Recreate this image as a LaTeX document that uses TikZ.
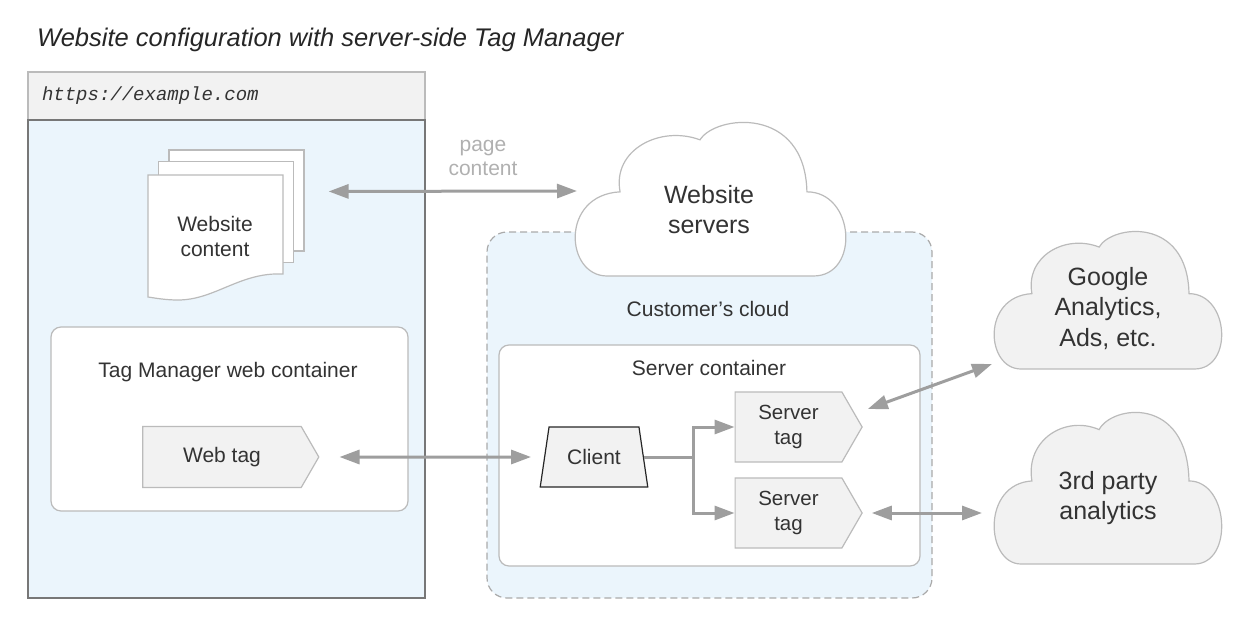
\documentclass[tikz,border=0pt]{standalone}
\usepackage{fontspec}
\setmainfont{Liberation Sans}
\setmonofont{Liberation Mono}
\usetikzlibrary{arrows.meta,shapes.geometric,shapes.symbols}
\definecolor{bluefill}{HTML}{EBF5FC}
\definecolor{greyfill}{HTML}{F2F2F2}
\definecolor{greyline}{HTML}{BBBBBB}
\definecolor{dashgrey}{HTML}{AAAAAA}
\definecolor{darkline}{HTML}{777777}
\definecolor{arrowgrey}{HTML}{9E9E9E}
\definecolor{labelgrey}{HTML}{B0B0B0}
\definecolor{inktext}{HTML}{333333}

\begin{document}
\begin{tikzpicture}
[
x=1pt,y=-1pt,
every node/.style={text=inktext,font=\fontsize{21}{25}\selectfont},
box/.style={draw=greyline,line width=1.2pt},
sheet/.style={box,fill=white,minimum width=135pt,minimum height=101pt},
container/.style={box,fill=white,rounded corners=10pt},
tag/.style={box,fill=greyfill,signal,signal to=east,signal from=nowhere,signal pointer angle=120,align=center},
client/.style={draw=black!85,line width=1.2pt,fill=greyfill,trapezium,trapezium left angle=75,trapezium right angle=75,trapezium stretches=true,minimum width=108pt,minimum height=60pt},
cloudtext/.style={align=center,font=\fontsize{25}{30.5}\selectfont},
biarrow/.style={arrowgrey,line width=3pt,{Triangle[length=20pt,width=14pt]}-{Triangle[length=20pt,width=14pt]}},
flow/.style={arrowgrey,line width=3pt,-{Triangle[length=20pt,width=14pt]}},
cloudshape/.pic={
  \path[pic actions] (0.119,1) .. controls (-0.037,1) and (-0.056,0.47) .. (0.167,0.45)
    .. controls (0.137,0.176) and (0.315,0.013) .. (0.463,0.11)
    .. controls (0.519,-0.052) and (0.852,-0.118) .. (0.859,0.45)
    .. controls (1.037,0.45) and (1.056,1) .. (0.883,1) -- cycle;
},
]
\useasboundingbox (0,0) rectangle (1254,626);

%Place the nodes
\node[anchor=base west,inner sep=0pt,text=black!85,font=\itshape\fontsize{25.5}{30}\selectfont] (title) at (37,47) {Website configuration with server-side Tag Manager};

\node[draw=greyline,line width=1.2pt,fill=greyfill,minimum height=48pt,text width=369pt,inner xsep=14pt,align=left,font=\ttfamily\itshape\fontsize{19}{22}\selectfont] (urlbar) at (226.5,96) {https://example.com};
\node[draw=darkline,line width=1.2pt,fill=bluefill,minimum width=397pt,minimum height=478pt] (browser) at (226.5,359) {};

\node[sheet] (backpage) at (236.5,200.5) {};
\node[sheet] (midpage) at (226,212) {};
\draw[box,fill=white] (148,175) -- (283,175) -- (283,274) .. controls (240,272) and (215,300) .. (178,300) .. controls (165,300) and (155,298) .. (148,297) -- cycle;
\node[align=center] (pages) at (215,236) {Website\\content};

\node[align=center,text=labelgrey,font=\fontsize{21}{24}\selectfont] (pagelabel) at (483,158) {page\\content};

\node[container,minimum width=357pt,minimum height=184pt] (webcont) at (229.5,419) {};
\node (webcontlabel) at (228,372) {Tag Manager web container};
\node[tag,minimum width=176pt,minimum height=61pt] (webtag) at (222,457) {Web tag};

\node[draw=dashgrey,line width=1.2pt,dash pattern=on 7pt off 4pt,fill=bluefill,rounded corners=20pt,minimum width=445pt,minimum height=366pt] (custbox) at (709.5,415) {};
\pic[draw=greyline,fill=white,line width=1.2pt,xscale=270,yscale=153] at (575,123) {cloudshape};
\node[cloudtext] (servers) at (709,209.5) {Website\\servers};
\node (custlabel) at (708,309) {Customer's cloud};

\node[container,minimum width=421pt,minimum height=221pt] (servcont) at (709.5,455.5) {};
\node (servcontlabel) at (709,368) {Server container};
\node[client] (client) at (594,457) {Client};
\node[tag,minimum width=127pt,minimum height=70pt,font=\fontsize{20.5}{25}\selectfont] (stag1) at (788.5,427) {Server\\tag};
\node[tag,minimum width=127pt,minimum height=70pt,font=\fontsize{20.5}{25}\selectfont] (stag2) at (788.5,513) {Server\\tag};

\pic[draw=greyline,fill=greyfill,line width=1.2pt,xscale=227,yscale=137] at (994,232) {cloudshape};
\node[cloudtext] (ga) at (1108,308.5) {Google\\Analytics,\\Ads, etc.};
\pic[draw=greyline,fill=greyfill,line width=1.2pt,xscale=227,yscale=151] at (994,413) {cloudshape};
\node[cloudtext] (third) at (1108,498) {3rd party\\analytics};

\coordinate (servers-in) at (577,191);
\coordinate (ga-in) at (992,364);
\coordinate (third-in) at (982,513);

%Draw the connections
\draw[biarrow,shorten <=24pt] ([yshift=9pt]backpage.east) -- (servers-in);
\draw[biarrow,shorten <=20pt,shorten >=13pt] (webtag.east) -- (client.west);
\draw[flow] (client.east) -- ++(50,0) coordinate (split) |- (stag1.west);
\draw[flow] (split) |- (stag2.west);
\draw[biarrow] ([shift={(5,-18)}]stag1.east) -- (ga-in);
\draw[biarrow,shorten <=9pt] (stag2.east) -- (third-in);
\end{tikzpicture}
\end{document}
